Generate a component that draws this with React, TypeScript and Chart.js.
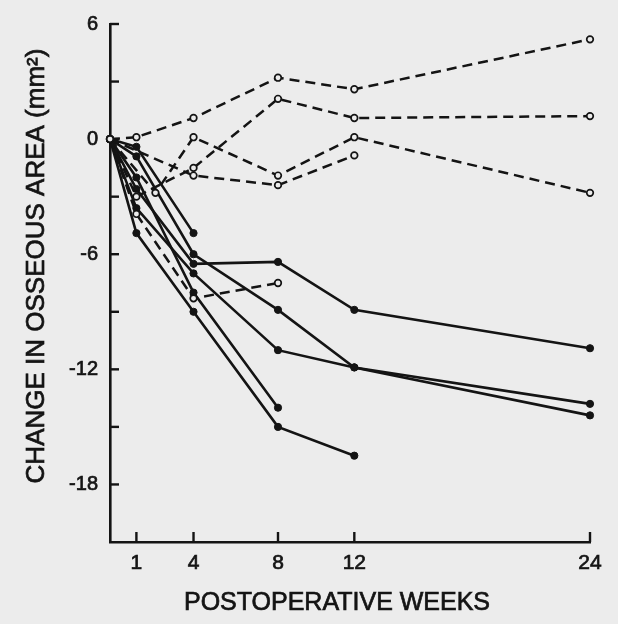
import React, { useEffect, useRef } from 'react';
import { Chart, LinearScale, registerables } from 'chart.js';

Chart.register(...registerables);

// ---- axis ticks ----
const xTickWeeks = [1, 4, 8, 12, 24];
const yTickValues = [6, 3, 0, -3, -6, -9, -12, -15, -18];
const yTickLabels = [6, 0, -6, -12, -18];

// ---- solid series (filled dots) ----
const weeksSolid1 = [0, 1, 4, 8, 12, 24];
const changeSolid1 = [0, -2.6, -6.5, -6.4, -8.9, -10.9];
const weeksSolid2 = [0, 1, 4, 8, 12, 24];
const changeSolid2 = [0, -0.9, -6.0, -8.9, -11.9, -13.8];
const weeksSolid3 = [0, 1, 4, 8, 12, 24];
const changeSolid3 = [0, -3.6, -7.0, -11.0, -11.9, -14.4];
const weeksSolid4 = [0, 1, 4, 8];
const changeSolid4 = [0, -2.0, -8.0, -14.0];
const weeksSolid5 = [0, 1, 4, 8, 12];
const changeSolid5 = [0, -4.9, -9.0, -15.0, -16.5];
const weeksSolid6 = [0, 1, 4];
const changeSolid6 = [0, -0.4, -4.9];

// ---- dashed series (open circles) ----
const weeksOpen1 = [0, 1, 4, 8, 12, 24];
const changeOpen1 = [0, 0.1, 1.1, 3.2, 2.6, 5.2];
const weeksOpen2 = [0, 1, 4, 8, 12, 24];
const changeOpen2 = [0, -3.0, -1.5, 2.1, 1.1, 1.2];
const weeksOpen3 = [0, 2, 4, 8, 12, 24];
const changeOpen3 = [0, -2.8, 0.1, -1.9, 0.1, -2.8];
const weeksOpen4 = [0, 4, 8, 12];
const changeOpen4 = [0, -1.9, -2.4, -0.85];
const weeksOpen5 = [0, 1, 4, 8];
const changeOpen5 = [0, -3.9, -8.3, -7.5];

// ---- x-axis spacing of the original (hand-drawn, not evenly spaced) ----
const xAxisBreakWeeks = [0, 1, 4, 8, 12, 24];
const xAxisBreakFractions = [0, 0.055, 0.174, 0.35, 0.509, 1];

const PAPER = '#ececec';
const INK = '#141414';
const FONT = '"Liberation Sans", Arial, Helvetica, sans-serif';

class PiecewiseScale extends LinearScale {
  static id = 'piecewise';
  static defaults = LinearScale.defaults;
  weekToDecimal(value: number) {
    const w = xAxisBreakWeeks;
    const f = xAxisBreakFractions;
    const n = w.length - 1;
    let i = 0;
    if (value <= w[0]) i = 0;
    else if (value >= w[n]) i = n - 1;
    else {
      while (i < n - 1 && value > w[i + 1]) i++;
    }
    return f[i] + ((value - w[i]) * (f[i + 1] - f[i])) / (w[i + 1] - w[i]);
  }
  getPixelForValue(value: any) {
    if (value === null || value === undefined || isNaN(value)) return NaN;
    return (this as any).getPixelForDecimal(this.weekToDecimal(+value));
  }
  getValueForPixel(pixel: number) {
    const dec = (this as any).getDecimalForPixel(pixel);
    const w = xAxisBreakWeeks;
    const f = xAxisBreakFractions;
    const n = w.length - 1;
    let i = 0;
    if (dec <= f[0]) i = 0;
    else if (dec >= f[n]) i = n - 1;
    else {
      while (i < n - 1 && dec > f[i + 1]) i++;
    }
    return w[i] + ((dec - f[i]) * (w[i + 1] - w[i])) / (f[i + 1] - f[i]);
  }
}
Chart.register(PiecewiseScale as any);

const toPoints = (weeks: number[], change: number[]) =>
  weeks.map((wk, i) => ({ x: wk, y: change[i] }));

const solidSet = (weeks: number[], change: number[]) => ({
  data: toPoints(weeks, change),
  borderColor: INK,
  borderWidth: 2.6,
  pointRadius: 3.6,
  pointBackgroundColor: INK,
  pointBorderColor: INK,
  pointBorderWidth: 1,
  fill: false,
  tension: 0,
  clip: false as any,
});

const openSet = (weeks: number[], change: number[]) => ({
  data: toPoints(weeks, change),
  borderColor: INK,
  borderWidth: 2.5,
  borderDash: [10, 6],
  pointRadius: 3.3,
  pointBackgroundColor: PAPER,
  pointBorderColor: INK,
  pointBorderWidth: 1.7,
  fill: false,
  tension: 0,
  clip: false as any,
});

const axisMarks = {
  id: 'axisMarks',
  beforeDatasetsDraw(chart: any) {
    const { ctx, chartArea, scales } = chart;
    ctx.save();
    ctx.strokeStyle = INK;
    ctx.lineWidth = 2.4;
    yTickValues.forEach((v) => {
      const py = scales.y.getPixelForValue(v);
      ctx.beginPath();
      ctx.moveTo(chartArea.left, py);
      ctx.lineTo(chartArea.left + 9, py);
      ctx.stroke();
    });
    xTickWeeks.forEach((v) => {
      const px = scales.x.getPixelForValue(v);
      ctx.beginPath();
      ctx.moveTo(px, chartArea.bottom);
      ctx.lineTo(px, chartArea.bottom - 10);
      ctx.stroke();
    });
    ctx.restore();
  },
  afterDraw(chart: any) {
    const { ctx } = chart;
    ctx.save();
    ctx.fillStyle = INK;
    ctx.strokeStyle = INK;
    ctx.lineWidth = 0.7;
    ctx.textAlign = 'center';
    ctx.textBaseline = 'middle';
    ctx.font = `25px ${FONT}`;
    ctx.fillText('POSTOPERATIVE WEEKS', 337, 603);
    ctx.strokeText('POSTOPERATIVE WEEKS', 337, 603);
    ctx.translate(37, 266);
    ctx.rotate(-Math.PI / 2);
    ctx.font = `26px ${FONT}`;
    ctx.fillText('CHANGE IN OSSEOUS AREA (mm²)', 0, 0);
    ctx.strokeText('CHANGE IN OSSEOUS AREA (mm²)', 0, 0);
    ctx.restore();
  },
};

export default function App() {
  const canvasRef = useRef<HTMLCanvasElement | null>(null);

  useEffect(() => {
    document.body.style.margin = '0';
    document.body.style.background = PAPER;
    const canvas = canvasRef.current;
    if (!canvas) return;
    const chart = new Chart(canvas, {
      type: 'line',
      data: {
        datasets: [
          openSet(weeksOpen1, changeOpen1),
          openSet(weeksOpen2, changeOpen2),
          openSet(weeksOpen3, changeOpen3),
          openSet(weeksOpen4, changeOpen4),
          openSet(weeksOpen5, changeOpen5),
          solidSet(weeksSolid1, changeSolid1),
          solidSet(weeksSolid2, changeSolid2),
          solidSet(weeksSolid3, changeSolid3),
          solidSet(weeksSolid4, changeSolid4),
          solidSet(weeksSolid5, changeSolid5),
          solidSet(weeksSolid6, changeSolid6),
        ] as any,
      },
      options: {
        responsive: false,
        animation: false,
        events: [],
        layout: { padding: { top: 15, right: 28, left: 0, bottom: 0 } },
        plugins: { legend: { display: false }, tooltip: { enabled: false } },
        scales: {
          x: {
            type: 'piecewise' as any,
            min: 0,
            max: 24,
            grid: { display: false, drawTicks: false },
            border: { display: true, color: INK, width: 2.6 },
            afterBuildTicks: (scale: any) => {
              scale.ticks = xTickWeeks.map((v) => ({ value: v }));
            },
            afterFit: (scale: any) => {
              scale.height = 82;
            },
            ticks: {
              autoSkip: false,
              maxRotation: 0,
              padding: 9,
              color: INK,
              textStrokeColor: INK,
              textStrokeWidth: 0.7,
              font: { family: FONT, size: 21 },
              callback: (v: any) => String(v),
            } as any,
          },
          y: {
            type: 'linear',
            min: -21,
            max: 6,
            grid: { display: false, drawTicks: false },
            border: { display: true, color: INK, width: 2.6 },
            afterBuildTicks: (scale: any) => {
              scale.ticks = yTickValues.map((v) => ({ value: v }));
            },
            afterFit: (scale: any) => {
              scale.width = 110;
            },
            ticks: {
              autoSkip: false,
              padding: 12,
              color: INK,
              textStrokeColor: INK,
              textStrokeWidth: 0.7,
              font: { family: FONT, size: 20 },
              callback: (v: any) => (yTickLabels.includes(Number(v)) ? String(v) : ''),
            } as any,
          },
        },
      },
      plugins: [axisMarks],
    });
    return () => chart.destroy();
  }, []);

  return (
    <div style={{ width: 618, height: 624, background: PAPER }}>
      <canvas ref={canvasRef} width={618} height={624} style={{ display: 'block' }} />
    </div>
  );
}
